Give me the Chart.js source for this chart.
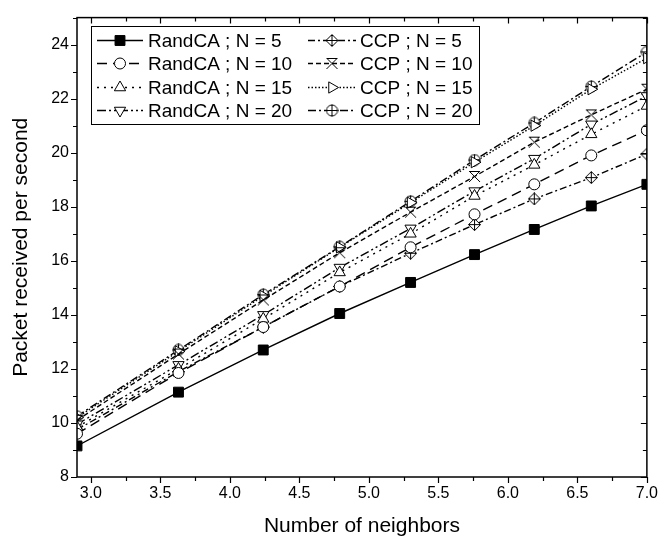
<!DOCTYPE html>
<html>
<head>
<meta charset="utf-8">
<style>
  html, body { margin: 0; padding: 0; background: #fff; }
</style>
<script src="https://cdn.jsdelivr.net/npm/chart.js@4.4.1/dist/chart.umd.min.js"></script>
</head>
<body>
<canvas id="c" width="665" height="543"></canvas>
<script>
// number of neighbors (x)
const neighbors = [2.9, 3.63, 4.24, 4.79, 5.3, 5.76, 6.19, 6.6, 7.0];

// packets received per second
const randN5  = [9.15, 11.14, 12.70, 14.05, 15.20, 16.23, 17.16, 18.03, 18.83];
const randN10 = [9.60, 11.85, 13.55, 15.05, 16.50, 17.72, 18.83, 19.90, 20.83];
const randN15 = [9.85, 12.00, 13.85, 15.57, 17.00, 18.40, 19.55, 20.68, 21.73];
const randN20 = [9.95, 12.15, 14.00, 15.75, 17.20, 18.58, 19.78, 21.05, 22.10];
const ccpN5   = [9.75, 11.90, 13.55, 15.05, 16.28, 17.34, 18.29, 19.08, 19.95];
const ccpN10  = [10.10, 12.55, 14.55, 16.30, 17.80, 19.12, 20.39, 21.40, 22.35];
const ccpN15  = [10.20, 12.65, 14.70, 16.50, 18.15, 19.65, 21.00, 22.35, 23.50];
const ccpN20  = [10.25, 12.70, 14.75, 16.52, 18.20, 19.73, 21.10, 22.45, 23.73];

const labels = [
  'RandCA ; N = 5', 'RandCA ; N = 10', 'RandCA ; N = 15', 'RandCA ; N = 20',
  'CCP ; N = 5', 'CCP ; N = 10', 'CCP ; N = 15', 'CCP ; N = 20'
];

const FONT = "'Liberation Sans', Arial, sans-serif";
Chart.defaults.font.family = FONT;
Chart.defaults.color = '#000';

// little canvas symbols for the combined markers
function marker(draw) {
  const c = document.createElement('canvas');
  c.width = 13; c.height = 13;
  const g = c.getContext('2d');
  g.strokeStyle = '#000'; g.fillStyle = '#fff'; g.lineWidth = 1;
  draw(g);
  return c;
}
const diamondPlus = marker(g => {
  g.beginPath();
  g.moveTo(6.5, 0.5); g.lineTo(12.5, 6.5); g.lineTo(6.5, 12.5); g.lineTo(0.5, 6.5); g.closePath();
  g.fill();
  g.moveTo(6.5, 0.5); g.lineTo(6.5, 12.5);
  g.moveTo(0.5, 6.5); g.lineTo(12.5, 6.5);
  g.stroke();
});
const circlePlus = marker(g => {
  g.beginPath(); g.arc(6.5, 6.5, 5.5, 0, Math.PI * 2);
  g.fill();
  g.moveTo(6.5, 0.5); g.lineTo(6.5, 12.5);
  g.moveTo(0.5, 6.5); g.lineTo(12.5, 6.5);
  g.stroke();
});
const crossBar = marker(g => {
  g.beginPath();
  g.moveTo(1, 1); g.lineTo(12, 12);
  g.moveTo(12, 1); g.lineTo(1, 12);
  g.moveTo(2, 1.5); g.lineTo(11, 1.5);
  g.stroke();
});

function series(i, data, style, dash, rot, radius, fill) {
  return {
    label: labels[i],
    data: neighbors.map((x, k) => ({ x, y: data[k] })),
    borderColor: '#000', borderWidth: 1.4, borderDash: dash,
    pointStyle: style, pointRotation: rot || 0, pointRadius: radius,
    pointBorderColor: '#000', pointBorderWidth: 1,
    pointBackgroundColor: fill || '#fff',
    tension: 0, fill: false
  };
}

const datasets = [
  series(0, randN5,  'rect',     [],                  0,   7, '#000'),
  series(1, randN10, 'circle',   [10, 6],             0,   5.5),
  series(2, randN15, 'triangle', [2, 5],              0,   6.5),
  series(3, randN20, 'triangle', [9, 3, 2, 3, 2, 3],  180, 6.5),
  series(4, ccpN5,   diamondPlus,[7, 3, 2, 3],        0,   6),
  series(5, ccpN10,  crossBar,   [5, 3],              0,   6),
  series(6, ccpN15,  'triangle', [1.5, 2],            90,  6.5),
  series(7, ccpN20,  circlePlus, [8, 3, 2, 3],        0,   6)
];

// frame with outward ticks (bottom/left) and mirrored inward ticks (top/right)
const frame = {
  id: 'frame',
  afterDatasetsDraw(chart) {
    const { ctx, chartArea: a, scales: { x, y } } = chart;
    ctx.save();
    ctx.strokeStyle = '#000';
    ctx.lineWidth = 1.5;
    ctx.strokeRect(a.left, a.top, a.right - a.left, a.bottom - a.top);
    ctx.lineWidth = 1.2;
    ctx.beginPath();
    const xt = x.ticks.map(t => t.value);
    xt.forEach((v, k) => {
      const list = [[v, 6]];
      if (k > 0) list.push([(v + xt[k - 1]) / 2, 4]);
      if (k === xt.length - 1 && v + 0.25 <= x.max) list.push([v + 0.25, 4]);
      if (k === 0 && v - 0.25 >= x.min) list.push([v - 0.25, 4]);
      list.forEach(([val, len]) => {
        const px = Math.round(x.getPixelForValue(val)) + 0.5;
        ctx.moveTo(px, a.bottom); ctx.lineTo(px, a.bottom + len);
        ctx.moveTo(px, a.top); ctx.lineTo(px, a.top + len);
      });
    });
    const yt = y.ticks.map(t => t.value);
    yt.forEach((v, k) => {
      const list = [[v, 6]];
      if (k > 0) list.push([(v + yt[k - 1]) / 2, 4]);
      if (k === yt.length - 1 && v + 1 <= y.max) list.push([v + 1, 4]);
      list.forEach(([val, len]) => {
        const py = Math.round(y.getPixelForValue(val)) + 0.5;
        ctx.moveTo(a.left, py); ctx.lineTo(a.left - len, py);
        ctx.moveTo(a.right, py); ctx.lineTo(a.right - len, py);
      });
    });
    ctx.stroke();
    ctx.restore();
  }
};

// legend box inside the plot, two columns of four
const boxLegend = {
  id: 'boxLegend',
  afterDraw(chart) {
    const { ctx } = chart;
    const box = { left: 91, top: 26, right: 479, bottom: 124 };
    const rows = [40, 63, 87, 110];
    const cols = [{ x0: 97, x1: 143, tx: 148 }, { x0: 308, x1: 356, tx: 360 }];
    ctx.save();
    ctx.fillStyle = '#fff';
    ctx.fillRect(box.left, box.top, box.right - box.left, box.bottom - box.top);
    ctx.strokeStyle = '#000';
    ctx.lineWidth = 1;
    ctx.strokeRect(box.left + 0.5, box.top + 0.5, box.right - box.left, box.bottom - box.top);
    chart.data.datasets.forEach((ds, i) => {
      const col = cols[Math.floor(i / 4)];
      const yy = rows[i % 4] + 0.5;
      ctx.save();
      ctx.strokeStyle = '#000';
      ctx.lineWidth = ds.borderWidth;
      ctx.setLineDash(ds.borderDash);
      ctx.beginPath();
      ctx.moveTo(col.x0, yy); ctx.lineTo(col.x1, yy);
      ctx.stroke();
      ctx.setLineDash([]);
      ctx.lineWidth = 1;
      ctx.fillStyle = ds.pointBackgroundColor;
      Chart.helpers.drawPoint(ctx, {
        pointStyle: ds.pointStyle, rotation: ds.pointRotation,
        radius: ds.pointRadius, borderWidth: 1
      }, (col.x0 + col.x1) / 2, yy);
      ctx.restore();
      ctx.fillStyle = '#000';
      ctx.font = '19px ' + FONT;
      ctx.textBaseline = 'middle';
      ctx.textAlign = 'left';
      ctx.fillText(ds.label, col.tx, yy + 1);
    });
    ctx.restore();
  }
};

new Chart(document.getElementById('c'), {
  type: 'line',
  data: { datasets },
  plugins: [frame, boxLegend],
  options: {
    responsive: false,
    animation: false,
    layout: { padding: { top: 8, right: 12, left: 0, bottom: 0 } },
    plugins: { legend: { display: false }, tooltip: { enabled: false } },
    scales: {
      x: {
        type: 'linear', min: 2.9, max: 7.0,
        grid: { display: false, drawTicks: false },
        border: { display: false },
        ticks: { stepSize: 0.5, includeBounds: false, padding: 7,
                 font: { size: 16 }, color: '#000', maxRotation: 0,
                 callback: v => v.toFixed(1) },
        title: { display: true, text: 'Number of neighbors', color: '#000',
                 font: { size: 21 }, padding: { top: 0, bottom: 4 } },
        afterFit: s => { s.height = 66; }
      },
      y: {
        type: 'linear', min: 8, max: 25,
        grid: { display: false, drawTicks: false },
        border: { display: false },
        ticks: { stepSize: 2, includeBounds: false, padding: 8,
                 font: { size: 16 }, color: '#000' },
        title: { display: true, text: 'Packet received per second', color: '#000',
                 font: { size: 21 }, padding: { top: 9, bottom: 0 } },
        afterFit: s => { s.width = 77; }
      }
    }
  }
});
</script>
</body>
</html>
